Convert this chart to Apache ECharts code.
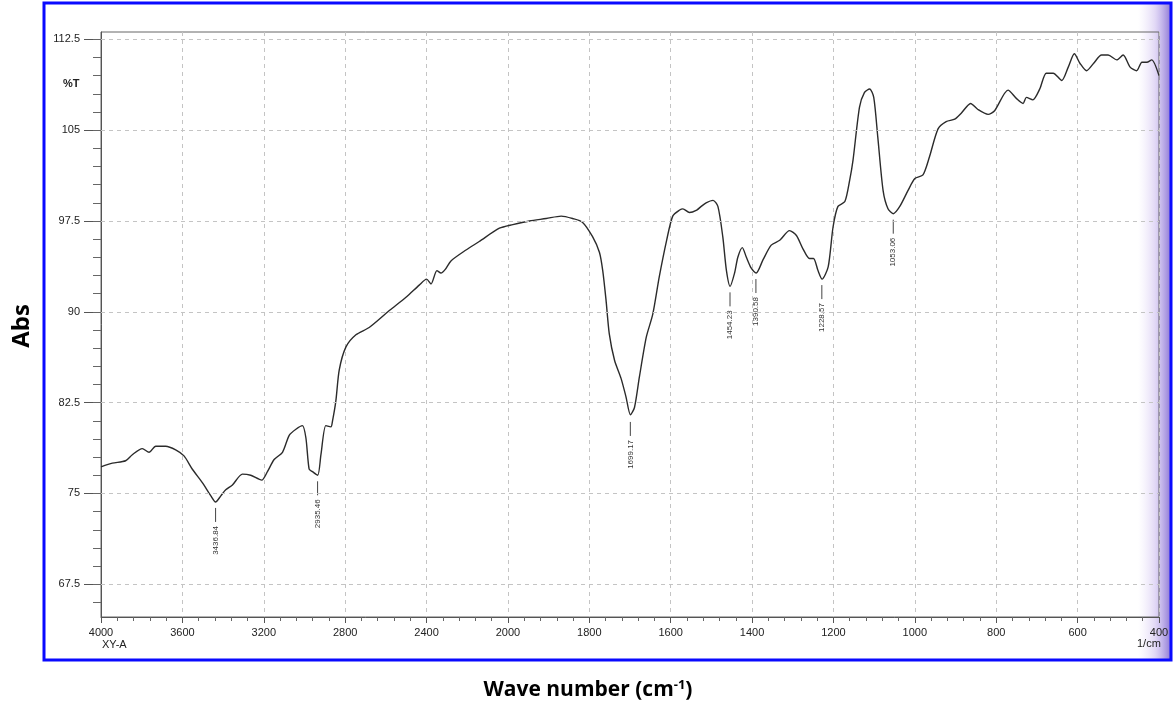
<!DOCTYPE html>
<html>
<head>
<meta charset="utf-8">
<title>FTIR spectrum</title>
<script src="https://cdn.jsdelivr.net/npm/echarts@6/dist/echarts.min.js"></script>
<style>
    html, body { margin: 0; padding: 0; background: #fff; }
    #main { width: 1174px; height: 713px; }
</style>
</head>
<body>
<div id="main"></div>
<script>
// wave numbers (1/cm), high to low
var wavenumber = [
    4000, 3944, 3879, 3846, 3797, 3764, 3731, 3682, 3633, 3592, 3551, 3502, 3460, 3437, 3411, 3387,
    3354, 3305, 3264, 3210, 3182, 3149, 3108, 3075, 3042, 3010, 2993, 2977, 2961, 2935, 2919, 2895,
    2870, 2862, 2846, 2829, 2796, 2747, 2682, 2583, 2501, 2436, 2400, 2378, 2349, 2329, 2308, 2280,
    2206, 2141, 2042, 1988, 1947, 1906, 1869, 1841, 1817, 1792, 1775, 1767, 1759, 1751, 1738, 1722,
    1710, 1699, 1689, 1677, 1660, 1644, 1628, 1610, 1595, 1578, 1570, 1554, 1536, 1525, 1513, 1496,
    1484, 1472, 1463, 1454, 1443, 1435, 1424, 1414, 1402, 1390, 1373, 1353, 1332, 1308, 1291, 1275,
    1259, 1249, 1238, 1228, 1213, 1201, 1189, 1172, 1160, 1152, 1136, 1124, 1111, 1101, 1091, 1078,
    1066, 1053, 1037, 1017, 1000, 980, 964, 943, 923, 902, 886, 863, 845, 820, 804, 771,
    750, 734, 726, 710, 693, 677, 660, 639, 623, 608, 594, 578, 561, 541, 525, 504,
    488, 471, 455, 442, 430, 418, 400
];

// %T at each wave number
var transmittance = [
    77.2, 77.5, 77.7, 78.2, 78.7, 78.4, 78.9, 78.9, 78.6, 78.1, 77.0, 75.9, 74.8, 74.3, 74.8, 75.3,
    75.7, 76.6, 76.5, 76.1, 76.8, 77.8, 78.4, 79.8, 80.3, 80.6, 79.6, 77.0, 76.8, 76.5, 78.2, 80.6,
    80.5, 81.0, 82.6, 85.2, 87.1, 88.1, 88.7, 90.1, 91.2, 92.2, 92.7, 92.3, 93.4, 93.2, 93.5, 94.2,
    95.1, 95.8, 96.9, 97.2, 97.5, 97.7, 97.9, 97.7, 97.4, 96.2, 94.9, 93.4, 91.0, 88.2, 86.0, 84.5,
    83.0, 81.5, 82.1, 84.6, 87.9, 89.8, 92.9, 95.9, 97.9, 98.4, 98.5, 98.2, 98.4, 98.7, 99.0, 99.2,
    98.7, 96.2, 93.4, 92.1, 93.2, 94.5, 95.3, 94.5, 93.6, 93.2, 94.3, 95.5, 95.9, 96.7, 96.3, 95.2,
    94.4, 94.4, 93.4, 92.7, 93.7, 97.0, 98.7, 99.1, 100.9, 102.5, 106.9, 108.1, 108.4, 107.7, 104.4, 100.0,
    98.5, 98.1, 98.7, 100.0, 101.0, 101.3, 102.8, 105.1, 105.7, 105.9, 106.4, 107.2, 106.7, 106.3, 106.6, 108.3,
    107.6, 107.2, 107.7, 107.5, 108.4, 109.7, 109.7, 109.1, 110.2, 111.3, 110.5, 109.9, 110.5, 111.2, 111.2, 110.8,
    111.2, 110.2, 109.9, 110.6, 110.6, 110.8, 109.5
];

// 标注的吸收峰
var peakWn = [3436.84, 2935.46, 1699.17, 1454.23, 1390.58, 1228.57, 1053.06];
var peakT = [74.3, 76.5, 81.4, 92.1, 93.2, 92.7, 98.1];
var peakLabels = ['3436.84', '2935.46', '1699.17', '1454.23', '1390.58', '1228.57', '1053.06'];

// y 轴刻度
var yMajorTicks = [67.5, 75, 82.5, 90, 97.5, 105, 112.5];
var yMinorTicks = [];
for (var t = 66; t <= 112.5; t += 1.5) { yMinorTicks.push(Math.round(t * 10) / 10); }

// the scan uses double scale below 2000 1/cm
function toPos(wn) {
    return wn >= 2000 ? 4000 - wn : 2000 + 2 * (2000 - wn);
}
function fromPos(p) {
    return p <= 2000 ? 4000 - p : 2000 - (p - 2000) / 2;
}

var spectrum = [];
for (var i = 0; i < wavenumber.length; i++) {
    spectrum.push([toPos(wavenumber[i]), transmittance[i]]);
}
var peaks = [];
for (var k = 0; k < peakWn.length; k++) {
    peaks.push([toPos(peakWn[k]), peakT[k], peakLabels[k]]);
}

var tickFont = { color: '#222', fontSize: 11, fontFamily: 'Liberation Sans' };

var myChart = echarts.init(document.getElementById('main'));

var option = {
    backgroundColor: '#fff',
    animation: false,
    grid: {
        left: 101,
        right: 15,
        top: 32,
        bottom: 96,
        show: true,
        borderColor: '#666',
        borderWidth: 1
    },
    xAxis: {
        type: 'value',
        min: 0,
        max: 5200,
        interval: 400,
        axisLine: { lineStyle: { color: '#555', width: 1 } },
        axisTick: { length: 6, lineStyle: { color: '#555' } },
        minorTick: { show: true, splitNumber: 5, length: 4, lineStyle: { color: '#666' } },
        axisLabel: $extend(tickFont, {
            margin: 10,
            formatter: function (v) { return String(Math.round(fromPos(v))); }
        }),
        splitLine: { show: true, lineStyle: { color: '#c4c4c4', type: [4, 4], width: 1 } }
    },
    yAxis: [{
        type: 'value',
        min: 64.8,
        max: 113.1,
        axisLine: { show: true, lineStyle: { color: '#555', width: 1 } },
        axisTick: { show: true, customValues: yMajorTicks, length: 17, lineStyle: { color: '#555' } },
        axisLabel: $extend(tickFont, { customValues: yMajorTicks, margin: 21 }),
        splitLine: { show: false }
    }, {
        type: 'value',
        min: 64.8,
        max: 113.1,
        position: 'left',
        axisLine: { show: false },
        axisTick: { show: true, customValues: yMinorTicks, length: 8, lineStyle: { color: '#666' } },
        axisLabel: { show: false },
        splitLine: { show: false }
    }],
    graphic: [
        // 右侧扫描阴影
        {
            type: 'rect', z: -10, silent: true,
            shape: { x: 1138, y: 4, width: 34, height: 656 },
            style: {
                fill: new echarts.graphic.LinearGradient(0, 0, 1, 0, [
                    { offset: 0, color: 'rgba(220,205,245,0)' },
                    { offset: 0.5, color: 'rgba(190,170,235,0.45)' },
                    { offset: 1, color: 'rgba(120,95,205,0.9)' }
                ])
            }
        },
        // 蓝色边框
        {
            type: 'rect', z: 100, silent: true,
            shape: { x: 44, y: 3, width: 1127, height: 657 },
            style: { fill: 'none', stroke: '#0a0aff', lineWidth: 3 }
        },
        { type: 'text', left: 63, top: 78, style: { text: '%T', fill: '#222', font: 'bold 11px "Liberation Sans"' } },
        { type: 'text', left: 102, top: 639, style: { text: 'XY-A', fill: '#222', font: '11px "Liberation Sans"' } },
        { type: 'text', left: 1137, top: 638, style: { text: '1/cm', fill: '#222', font: '11px "Liberation Sans"' } },
        {
            type: 'text', x: 22, y: 326, rotation: Math.PI / 2,
            style: { text: 'Abs', fill: '#000', font: 'bold 24px "Open Sans"', align: 'center', verticalAlign: 'middle' }
        },
        {
            type: 'text', x: 588, y: 690,
            style: {
                text: '{a|Wave number (cm}{s|-1}{a|)}',
                align: 'center', verticalAlign: 'middle',
                rich: {
                    a: { fill: '#000', font: 'bold 21px "Open Sans"' },
                    s: { fill: '#000', font: 'bold 13px "Open Sans"', padding: [0, 0, 10, 0] }
                }
            }
        }
    ],
    series: [{
        name: 'spectrum',
        type: 'line',
        data: spectrum,
        showSymbol: false,
        smooth: 0.25,
        lineStyle: { color: '#2b2b2b', width: 1.4 },
        z: 3,
        markLine: {
            silent: true,
            symbol: 'none',
            label: { show: false },
            lineStyle: { color: '#c4c4c4', type: [4, 4], width: 1 },
            data: yMajorTicks.map(function (v) { return { yAxis: v }; })
        }
    }, {
        name: 'peaks',
        type: 'custom',
        data: peaks,
        z: 4,
        renderItem: function (params, api) {
            var p = api.coord([api.value(0), api.value(1)]);
            return {
                type: 'group',
                children: [{
                    type: 'line',
                    shape: { x1: p[0], y1: p[1] + 6, x2: p[0], y2: p[1] + 20 },
                    style: { stroke: '#444', lineWidth: 1 }
                }, {
                    type: 'text',
                    x: p[0], y: p[1] + 24,
                    rotation: Math.PI / 2,
                    style: {
                        text: peakLabels[params.dataIndex],
                        fill: '#333',
                        font: '8px "Liberation Sans"',
                        align: 'right',
                        verticalAlign: 'middle'
                    }
                }]
            };
        }
    }]
};

function $extend(a, b) {
    var o = {};
    for (var key in a) { o[key] = a[key]; }
    for (var key2 in b) { o[key2] = b[key2]; }
    return o;
}

myChart.setOption(option);
</script>
</body>
</html>
